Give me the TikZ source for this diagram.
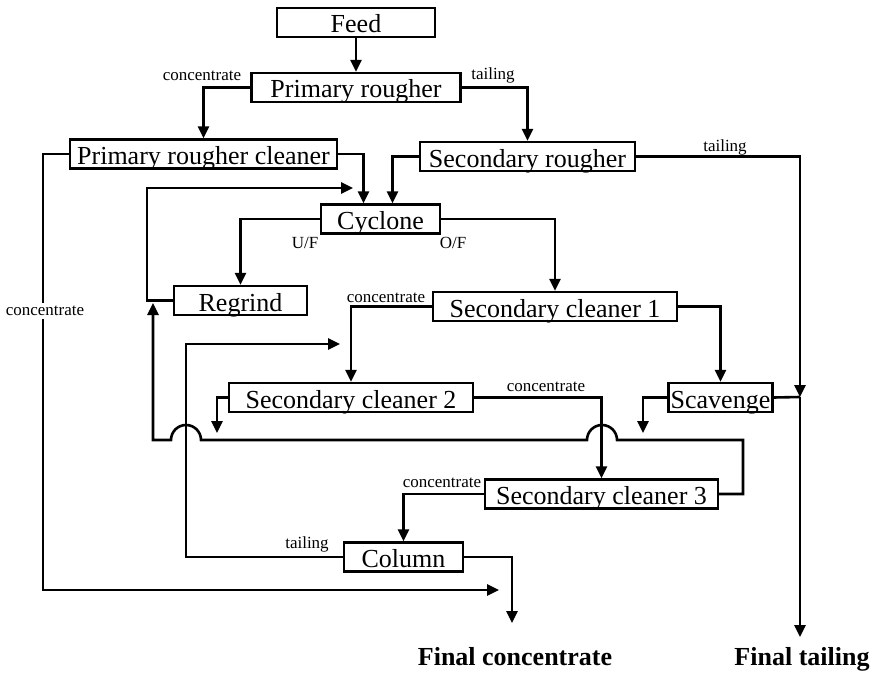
\documentclass[tikz,border=0pt]{standalone}
\usepackage{fontspec}
\setmainfont{Liberation Serif}
\usetikzlibrary{arrows.meta}
\begin{document}
\begin{tikzpicture}[x=1pt,y=-1pt,
  box/.style={draw,line width=2.2pt,minimum height=29pt,inner sep=0pt,text height=23pt,text depth=2pt,font=\fontsize{26}{28}\selectfont},
  lab/.style={font=\fontsize{17}{19}\selectfont,inner sep=1pt},
  fin/.style={font=\fontsize{26}{28}\selectfont\bfseries,inner sep=0pt,anchor=base},
  flow/.style={line width=2.6pt},
  arr/.style={flow,-{Triangle[length=12pt,width=11pt]}}]
\useasboundingbox (0,0) rectangle (875,674);
% boxes
\node[box,minimum width=158pt] (feed) at (356,22.5) {Feed};
\node[box,minimum width=209pt] (pr) at (356,87.5) {Primary rougher};
\node[box,minimum width=267pt] (prc) at (203.5,154) {Primary rougher cleaner};
\node[box,minimum width=215pt] (sr) at (527.5,156.5) {Secondary rougher};
\node[box,minimum width=119pt] (cyc) at (380.5,219) {Cyclone};
\node[box,minimum width=133pt] (rg) at (240.5,300.5) {Regrind};
\node[box,minimum width=244pt] (sc1) at (555,306.5) {Secondary cleaner 1};
\node[box,minimum width=244pt] (sc2) at (351,397.5) {Secondary cleaner 2};
\node[box,minimum width=104pt] (scav) at (720.5,397.5) {Scavenge};
\node[box,minimum width=233pt] (sc3) at (601.5,494) {Secondary cleaner 3};
\node[box,minimum width=119pt] (col) at (403.5,557) {Column};
% free ends
\coordinate (tj) at (800,397);
\coordinate (tend) at (800,637);
\coordinate (rl) at (147,188);
\coordinate (rc) at (353,188);
\coordinate (sa) at (643,433);
\coordinate (sb) at (217,433);
\coordinate (rup) at (153,303);
\coordinate (cc) at (186,344);
\coordinate (ce) at (340,344);
\coordinate (fc) at (512,623);
\coordinate (pe) at (499,590);
% connectors
\draw[arr] (feed) -- (pr);
\draw[arr] (pr.west) -| (prc.north);
\draw[arr] (pr.east) -| (sr.north);
\draw[arr] (prc.east) -| ([xshift=-17pt]cyc.north);
\draw[arr] (sr.west) -| ([xshift=12pt]cyc.north);
\draw[arr] (sr.east) -| (tj);
\draw[arr] (tj) -- (tend);
\draw[flow] (scav.east) -- (tj);
\draw[arr] (cyc.west) -| (rg.north);
\draw[arr] (cyc.east) -| (sc1.north);
\draw[arr] (rg.west) -| (rl) -- (rc);
\draw[arr] (sc1.west) -| (sc2.north);
\draw[arr] (sc1.east) -| (scav.north);
\draw[arr] (scav.west) -| (sa);
\draw[arr] (sc2.west) -| (sb);
\draw[arr] (sc2.east) -| (sc3.north);
\draw[arr] (sc3.east) -| (743,440) -- (617,440) arc[start angle=0,end angle=180,radius=15pt] -- (201,440) arc[start angle=0,end angle=180,radius=15pt] -- (153,440) -- (rup);
\draw[arr] (sc3.west) -| (col.north);
\draw[arr] (col.west) -| (cc) -- (ce);
\draw[arr] (col.east) -| (fc);
\draw[arr] (prc.west) -| (43,590) -- (pe);
% labels
\node[lab] at (202,76) {concentrate};
\node[lab] at (493,75) {tailing};
\node[lab] at (725,147) {tailing};
\node[lab] at (305,243) {U/F};
\node[lab] at (453,243) {O/F};
\node[lab,fill=white,inner sep=3pt] at (45,311) {concentrate};
\node[lab] at (386,298) {concentrate};
\node[lab] at (546,387) {concentrate};
\node[lab] at (442,483) {concentrate};
\node[lab] at (307,544) {tailing};
\node[fin] at (515,665) {Final concentrate};
\node[fin] at (802,665) {Final tailing};
\end{tikzpicture}
\end{document}
